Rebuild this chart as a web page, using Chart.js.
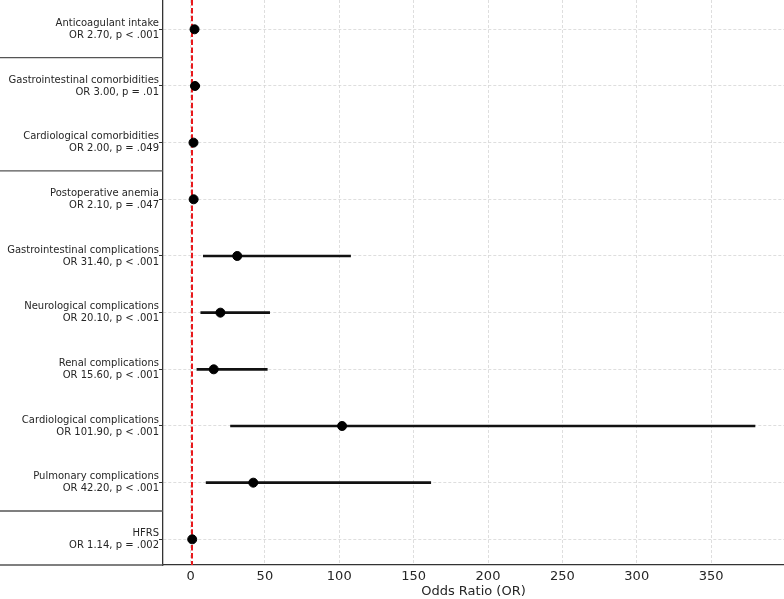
<!DOCTYPE html>
<html>
<head>
<meta charset="utf-8">
<script src="https://cdn.jsdelivr.net/npm/chart.js"></script>
<style>
  html, body { margin: 0; padding: 0; background: #fff; }
  canvas { display: block; }
</style>
</head>
<body>
<canvas id="forest" width="784" height="599"></canvas>
<script>
// Risk factors, top to bottom
const factors = [
    'Anticoagulant intake',
    'Gastrointestinal comorbidities',
    'Cardiological comorbidities',
    'Postoperative anemia',
    'Gastrointestinal complications',
    'Neurological complications',
    'Renal complications',
    'Cardiological complications',
    'Pulmonary complications',
    'HFRS'
];
const oddsRatios = [2.70, 3.00, 2.00, 2.10, 31.40, 20.10, 15.60, 101.90, 42.20, 1.14];
const ciLower = [1.7, 1.45, 1.0, 1.0, 8.6, 6.9, 4.3, 26.9, 10.5, 1.05];
const ciUpper = [4.3, 6.2, 4.0, 4.4, 107.6, 53.2, 51.6, 379.5, 161.5, 1.24];
const pValues = ['< .001', '= .01', '= .049', '= .047', '< .001', '< .001', '< .001', '< .001', '< .001', '= .002'];
const xTicks = [0, 50, 100, 150, 200, 250, 300, 350];
const nullOR = 1;
// last row index of each group (separator drawn below it)
const groupEnds = [0, 2, 8, 9];

const xMin = -18.5, xMax = 399;
const yMin = -0.517, yMax = 9.453;

const font = 'DejaVu Sans';

// thin lines left of the axis between groups
const groupSeparators = {
    id: 'groupSeparators',
    afterDraw(chart) {
        const ctx = chart.ctx;
        const y = chart.scales.y;
        const area = chart.chartArea;
        ctx.save();
        ctx.strokeStyle = '#555';
        ctx.lineWidth = 1.3;
        groupEnds.forEach(i => {
            const py = Math.min(y.getPixelForValue(i + 0.5), area.bottom);
            ctx.beginPath();
            ctx.moveTo(0, py);
            ctx.lineTo(area.left, py);
            ctx.stroke();
        });
        ctx.restore();
    }
};

new Chart(document.getElementById('forest'), {
    type: 'scatter',
    data: {
        datasets: [
            {
                type: 'scatter',
                data: oddsRatios.map((v, i) => ({ x: v, y: i })),
                backgroundColor: '#000',
                borderColor: '#000',
                pointRadius: 4.5,
                pointHoverRadius: 4.5,
                order: 0
            },
            {
                type: 'bar',
                indexAxis: 'y',
                data: ciLower.map((lo, i) => ({ x: [lo, ciUpper[i]], y: i })),
                backgroundColor: '#111',
                borderWidth: 0,
                barThickness: 2,
                order: 1
            },
            {
                type: 'line',
                data: [{ x: nullOR, y: yMin }, { x: nullOR, y: yMax }],
                borderColor: '#e8191c',
                borderWidth: 2,
                borderDash: [5.5, 2.4],
                pointRadius: 0,
                showLine: true,
                order: 2
            }
        ]
    },
    options: {
        responsive: false,
        animation: false,
        layout: { padding: 0, autoPadding: false },
        plugins: {
            legend: { display: false },
            tooltip: { enabled: false }
        },
        scales: {
            x: {
                type: 'linear',
                position: 'bottom',
                min: xMin,
                max: xMax,
                offset: false,
                afterBuildTicks: scale => {
                    scale.ticks = xTicks.map(v => ({ value: v }));
                },
                afterFit: scale => {
                    scale.height = 34;
                    scale.paddingLeft = 0;
                    scale.paddingRight = 0;
                },
                ticks: {
                    padding: 4,
                    color: '#262626',
                    font: { family: font, size: 13 }
                },
                grid: {
                    offset: false,
                    color: '#d6d6d6',
                    lineWidth: 0.8,
                    drawTicks: false
                },
                border: {
                    display: true,
                    color: '#333',
                    width: 1.3,
                    dash: [3, 2]
                },
                title: {
                    display: true,
                    text: 'Odds Ratio (OR)',
                    color: '#262626',
                    padding: { top: 0, bottom: 0 },
                    font: { family: font, size: 13 }
                }
            },
            y: {
                type: 'linear',
                position: 'left',
                reverse: true,
                min: yMin,
                max: yMax,
                offset: false,
                afterBuildTicks: scale => {
                    scale.ticks = factors.map((f, i) => ({ value: i }));
                },
                afterFit: scale => {
                    scale.width = 163;
                    scale.paddingTop = 0;
                    scale.paddingBottom = 0;
                },
                ticks: {
                    autoSkip: false,
                    padding: 0,
                    color: '#262626',
                    font: { family: font, size: 10 },
                    callback: value => [
                        factors[value],
                        'OR ' + oddsRatios[value].toFixed(2) + ', p ' + pValues[value]
                    ]
                },
                grid: {
                    offset: false,
                    color: '#d6d6d6',
                    lineWidth: 0.8,
                    tickLength: 4,
                    tickColor: '#333',
                    tickWidth: 1,
                    tickBorderDash: []
                },
                border: {
                    display: true,
                    color: '#333',
                    width: 1.3,
                    dash: [3, 2]
                }
            }
        }
    },
    plugins: [groupSeparators]
});
</script>
</body>
</html>
